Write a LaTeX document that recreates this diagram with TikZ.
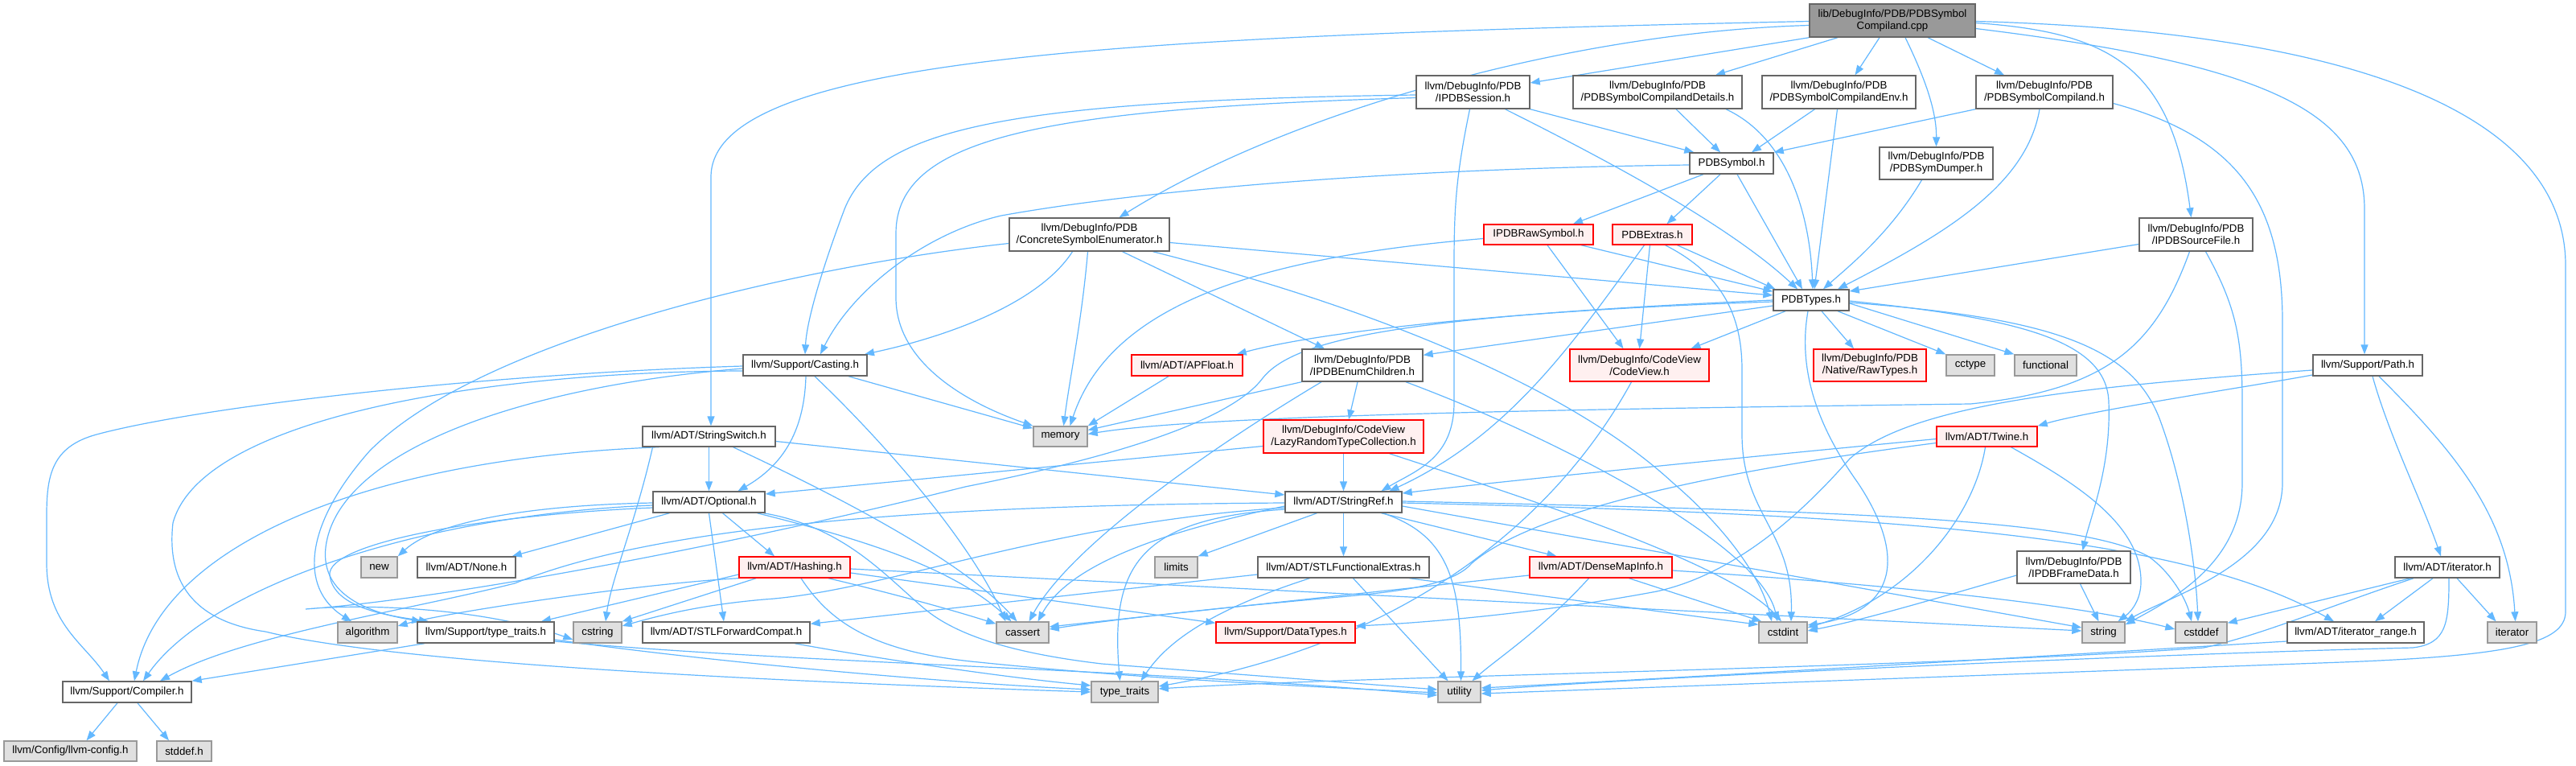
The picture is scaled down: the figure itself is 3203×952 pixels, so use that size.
\documentclass[tikz,border=0pt]{standalone}
\usepackage{fontspec}
\setmainfont{Liberation Sans}
\usetikzlibrary{arrows.meta}
\definecolor{edgec}{HTML}{63B8FF}
\definecolor{nbord}{HTML}{666666}
\definecolor{gbord}{HTML}{999999}
\definecolor{gfill}{HTML}{E0E0E0}
\definecolor{rfill}{HTML}{FFF0F0}
\definecolor{rootfill}{HTML}{999999}
\newcommand\labfont{\fontsize{13.3}{15}\selectfont}
\newcommand\mkbox[7]{\node[#2,minimum width={(#5)-(#3)},minimum height={(#6)-(#4)}] (#1) at ({((#3)+(#5))/2},{((#4)+(#6))/2}) {#7};}
\pgfdeclarelayer{edges}
\pgfsetlayers{edges,main}
\begin{document}
\begin{tikzpicture}[x=1pt,y=-1pt,
 box/.style={draw=nbord,fill=white,line width=1.4pt,inner sep=0pt,align=center,font=\labfont},
 rbox/.style={box,draw=red,fill=rfill},
 gbox/.style={box,draw=gbord,fill=gfill},
 rootbox/.style={box,fill=rootfill},
 e/.style={draw=edgec,line width=1.2pt,-{Triangle[length=12pt,width=9pt]}}]
\useasboundingbox (0,0) rectangle (3203,952);
% ---------------- nodes
\mkbox{root}{rootbox}{2250}{5}{2456}{46}{lib/DebugInfo/PDB/PDBSymbol\\Compiland.cpp}
\mkbox{ipdbsession}{box}{1761}{94}{1902}{135}{llvm/DebugInfo/PDB\\/IPDBSession.h}
\mkbox{compdetails}{box}{1956}{94}{2166}{135}{llvm/DebugInfo/PDB\\/PDBSymbolCompilandDetails.h}
\mkbox{compenv}{box}{2191}{94}{2382}{135}{llvm/DebugInfo/PDB\\/PDBSymbolCompilandEnv.h}
\mkbox{compilandh}{box}{2457}{94}{2627}{135}{llvm/DebugInfo/PDB\\/PDBSymbolCompiland.h}
\mkbox{pdbsymbol}{box}{2101}{190}{2205}{216}{PDBSymbol.h}
\mkbox{symdumper}{box}{2337}{183}{2478}{223}{llvm/DebugInfo/PDB\\/PDBSymDumper.h}
\mkbox{concrete}{box}{1255}{271}{1454}{312}{llvm/DebugInfo/PDB\\/ConcreteSymbolEnumerator.h}
\mkbox{sourcefile}{box}{2660}{271}{2801}{312}{llvm/DebugInfo/PDB\\/IPDBSourceFile.h}
\mkbox{rawsym}{rbox}{1845}{279}{1981}{304}{IPDBRawSymbol.h}
\mkbox{extras}{rbox}{2005}{279}{2104}{304}{PDBExtras.h}
\mkbox{pdbtypes}{box}{2205}{360}{2299}{386}{PDBTypes.h}
\mkbox{enumchildren}{box}{1619}{434}{1769}{474}{llvm/DebugInfo/PDB\\/IPDBEnumChildren.h}
\mkbox{codeview}{rbox}{1952}{434}{2125}{474}{llvm/DebugInfo/CodeView\\/CodeView.h}
\mkbox{rawtypes}{rbox}{2255}{434}{2395}{474}{llvm/DebugInfo/PDB\\/Native/RawTypes.h}
\mkbox{casting}{box}{924}{441}{1078}{467}{llvm/Support/Casting.h}
\mkbox{apfloat}{rbox}{1407}{441}{1545}{467}{llvm/ADT/APFloat.h}
\mkbox{cctype}{gbox}{2420}{441}{2480}{467}{cctype}
\mkbox{functional}{gbox}{2505}{441}{2582}{467}{functional}
\mkbox{pathh}{box}{2876}{441}{3012}{467}{llvm/Support/Path.h}
\mkbox{strswitch}{box}{799}{530}{964}{555}{llvm/ADT/StringSwitch.h}
\mkbox{memory}{gbox}{1285}{530}{1352}{555}{memory}
\mkbox{lazy}{rbox}{1571}{522}{1770}{563}{llvm/DebugInfo/CodeView\\/LazyRandomTypeCollection.h}
\mkbox{twine}{rbox}{2408}{530}{2533}{555}{llvm/ADT/Twine.h}
\mkbox{optional}{box}{812}{611}{951}{637}{llvm/ADT/Optional.h}
\mkbox{stringref}{box}{1598}{611}{1743}{637}{llvm/ADT/StringRef.h}
\mkbox{newh}{gbox}{449}{692}{494}{718}{new}
\mkbox{none}{box}{519}{692}{641}{718}{llvm/ADT/None.h}
\mkbox{hashing}{rbox}{919}{692}{1057}{718}{llvm/ADT/Hashing.h}
\mkbox{limits}{gbox}{1436}{692}{1489}{718}{limits}
\mkbox{stlfe}{box}{1564}{692}{1777}{718}{llvm/ADT/STLFunctionalExtras.h}
\mkbox{densemap}{rbox}{1902}{692}{2079}{718}{llvm/ADT/DenseMapInfo.h}
\mkbox{framedata}{box}{2508}{685}{2649}{725}{llvm/DebugInfo/PDB\\/IPDBFrameData.h}
\mkbox{iteratorh}{box}{2978}{692}{3108}{718}{llvm/ADT/iterator.h}
\mkbox{algorithm}{gbox}{420}{773}{494}{799}{algorithm}
\mkbox{typetraitsh}{box}{519}{773}{689}{799}{llvm/Support/type\_traits.h}
\mkbox{cstring}{gbox}{713}{773}{773}{799}{cstring}
\mkbox{stlfc}{box}{799}{773}{1007}{799}{llvm/ADT/STLForwardCompat.h}
\mkbox{cassert}{gbox}{1239}{773}{1304}{799}{cassert}
\mkbox{datatypes}{rbox}{1512}{773}{1685}{799}{llvm/Support/DataTypes.h}
\mkbox{cstdint}{gbox}{2187}{773}{2247}{799}{cstdint}
\mkbox{stringh}{gbox}{2589}{773}{2642}{799}{string}
\mkbox{cstddef}{gbox}{2705}{773}{2769}{799}{cstddef}
\mkbox{itrange}{box}{2844}{773}{3014}{799}{llvm/ADT/iterator\_range.h}
\mkbox{iterator}{gbox}{3093}{773}{3154}{799}{iterator}
\mkbox{compiler}{box}{78}{847}{238}{873}{llvm/Support/Compiler.h}
\mkbox{typetraits}{gbox}{1357}{847}{1440}{873}{type\_traits}
\mkbox{utility}{gbox}{1788}{847}{1841}{873}{utility}
\mkbox{llvmconfig}{gbox}{5}{921}{170}{946}{llvm/Config/llvm-config.h}
\mkbox{stddef}{gbox}{195}{921}{263}{946}{stddef.h}
% ---------------- edges
\begin{pgfonlayer}{edges}
\fill[white] (0,0) rectangle (3203,952);
% root
\draw[e] (root.south west) -- (ipdbsession);
\draw[e] ([xshift=-68pt]root.south) -- ([xshift=72pt]compdetails.north);
\draw[e] ([xshift=-16pt]root.south) -- ([xshift=20pt]compenv.north);
\draw[e] ([xshift=16pt]root.south) .. controls (2395,100) and (2408,140) .. (symdumper.north);
\draw[e] ([xshift=44pt]root.south) -- ([xshift=-50pt]compilandh.north);
\draw[e] ([yshift=-3pt]root.east) .. controls (2620,40) and (2700,80) .. ([xshift=-6pt]sourcefile.north);
\draw[e] ([yshift=-10pt]root.east) .. controls (2820,80) and (2940,140) .. (2940,260) -- ([xshift=-4pt]pathh.north);
\draw[e] ([yshift=-1pt]root.east) .. controls (2950,40) and (3190,150) .. (3190,330) -- (3190,760) .. controls (3190,800) and (3120,815) .. (2912,823) -- ([yshift=-2pt]utility.east);
\draw[e] ([yshift=-1pt]root.west) .. controls (1400,45) and (884,70) .. (884,220) -- ([xshift=2.5pt]strswitch.north);
\draw[e] ([yshift=-6pt]root.west) .. controls (1950,40) and (1600,140) .. ([xshift=37pt]concrete.north);
% IPDBSession
\draw[e] ([yshift=-3.5pt]ipdbsession.west) .. controls (1250,125) and (1090,160) .. (1050,260) .. controls (1020,340) and (1003,400) .. (casting.north);
\draw[e] ([yshift=-7pt]ipdbsession.west) .. controls (1300,135) and (1114,170) .. (1114,290) -- (1114,370) .. controls (1114,450) and (1200,500) .. (memory.north west);
\draw[e] ([xshift=-4pt]ipdbsession.south) .. controls (1810,220) and (1808,260) .. (1808,330) -- (1808,500) .. controls (1808,570) and (1760,585) .. ([xshift=47pt]stringref.north);
\draw[e] (ipdbsession.south east) -- ([xshift=6pt]pdbsymbol.north west);
\draw[e] ([xshift=40pt]ipdbsession.south) .. controls (2000,200) and (2150,280) .. ([xshift=-17pt]pdbtypes.north);
% CompilandDetails / Env / Compiland.h / SymDumper
\draw[e] ([xshift=23pt]compdetails.south) -- ([xshift=-14pt]pdbsymbol.north);
\draw[e] ([xshift=85pt]compdetails.south) .. controls (2220,170) and (2250,260) .. ([xshift=2pt]pdbtypes.north);
\draw[e] ([xshift=-30pt]compenv.south) -- ([xshift=25pt]pdbsymbol.north);
\draw[e] ([xshift=-2pt]compenv.south) -- ([xshift=4pt]pdbtypes.north);
\draw[e] (compilandh.south west) -- (pdbsymbol.north east);
\draw[e] ([xshift=-6pt]compilandh.south) .. controls (2520,230) and (2420,290) .. ([xshift=33pt]pdbtypes.north);
\draw[e] ([yshift=-14pt]compilandh.east) .. controls (2780,170) and (2838,250) .. (2838,400) -- (2838,600) .. controls (2838,700) and (2700,740) .. (stringh.north east);
\draw[e] ([xshift=-18pt]symdumper.south) .. controls (2350,290) and (2300,330) .. ([xshift=15pt]pdbtypes.north);
% PDBSymbol
\draw[e] ([xshift=-35pt]pdbsymbol.south) -- ([xshift=43pt]rawsym.north);
\draw[e] ([xshift=-14pt]pdbsymbol.south) -- ([xshift=18pt]extras.north);
\draw[e] ([xshift=7pt]pdbsymbol.south) -- ([xshift=-11pt]pdbtypes.north);
\draw[e] ([yshift=-2pt]pdbsymbol.west) .. controls (1700,210) and (1400,240) .. (1245,268) .. controls (1150,290) and (1060,360) .. ([xshift=19pt]casting.north);
% IPDBRawSymbol
\draw[e] ([xshift=53pt]rawsym.south) -- ([yshift=-3pt]pdbtypes.north west);
\draw[e] ([xshift=11pt]rawsym.south) -- ([xshift=-20pt]codeview.north);
\draw[e] ([yshift=-5pt]rawsym.west) .. controls (1560,320) and (1380,380) .. ([xshift=12pt]memory.north);
% PDBExtras
\draw[e] ([xshift=31pt]extras.south) -- ([xshift=3pt]pdbtypes.north west);
\draw[e] ([xshift=-3pt]extras.south) -- (codeview.north);
\draw[e] ([xshift=16pt]extras.south) .. controls (2140,340) and (2166,390) .. (2166,460) -- (2166,540) .. controls (2166,640) and (2230,660) .. ([xshift=10pt]cstdint.north);
\draw[e] ([xshift=-10pt]extras.south) .. controls (1960,420) and (1880,540) .. ([xshift=57pt]stringref.north);
% ConcreteSymbolEnumerator
\draw[e] ([xshift=-21pt]concrete.south) .. controls (1290,380) and (1170,420) .. ([xshift=74pt]casting.north);
\draw[e] ([xshift=-2pt]concrete.south) .. controls (1345,400) and (1330,470) .. ([xshift=4pt]memory.north);
\draw[e] ([xshift=41pt]concrete.south) -- ([xshift=-47pt]enumchildren.north);
\draw[e] ([xshift=79pt]concrete.south) .. controls (1700,380) and (1950,480) .. (2080,600) .. controls (2150,660) and (2190,720) .. ([xshift=-14pt]cstdint.north);
\draw[e] ([yshift=-10pt]concrete.east) -- ([yshift=6pt]pdbtypes.west);
\draw[e] ([yshift=-11pt]concrete.west) .. controls (1000,330) and (600,420) .. (460,560) .. controls (380,650) and (370,730) .. ([xshift=-20pt]algorithm.north);
% IPDBSourceFile
\draw[e] ([yshift=-12pt]sourcefile.west) -- ([yshift=11pt]pdbtypes.east);
\draw[e] ([xshift=12pt]sourcefile.south) .. controls (2780,380) and (2788,420) .. (2788,500) -- (2788,600) .. controls (2788,700) and (2700,745) .. ([yshift=-4pt]stringh.north east);
\draw[e] ([xshift=-8pt]sourcefile.south) .. controls (2680,430) and (2620,485) .. (2450,502) .. controls (2000,508) and (1500,515) .. ([yshift=3pt]memory.east);
% APFloat, IPDBEnumChildren, LazyRandomTypeCollection
\draw[e] ([xshift=-23pt]apfloat.south) -- (memory.north east);
\draw[e] ([xshift=-6pt]enumchildren.south) -- ([xshift=6.5pt]lazy.north);
\draw[e] (enumchildren.south west) -- ([yshift=8pt]memory.east);
\draw[e] ([xshift=-51pt]enumchildren.south) .. controls (1500,560) and (1330,680) .. ([xshift=8pt]cassert.north);
\draw[e] ([xshift=54pt]enumchildren.south) .. controls (1950,550) and (2190,680) .. ([xshift=-7pt]cstdint.north);
\draw[e] (lazy.south) -- (stringref.north);
\draw[e] ([yshift=-12pt]lazy.west) -- ([yshift=10pt]optional.east);
\draw[e] ([xshift=57pt]lazy.south) .. controls (1900,620) and (2150,700) .. ([xshift=-2pt]cstdint.north);
% Casting
\draw[e] ([xshift=1pt]casting.south) .. controls (1000,540) and (970,580) .. ([xshift=36pt]optional.north);
\draw[e] ([xshift=12pt]casting.south) .. controls (1110,560) and (1210,680) .. ([xshift=-21pt]cassert.north);
\draw[e] ([xshift=54pt]casting.south) -- ([yshift=-3pt]memory.north west);
\draw[e] ([yshift=-1pt]casting.west) .. controls (600,465) and (250,505) .. (120,540) .. controls (65,555) and (58,590) .. (58,640) -- (58,700) .. controls (58,775) and (105,800) .. ([xshift=-22pt]compiler.north);
\draw[e] ([yshift=-4pt]casting.west) .. controls (650,480) and (420,560) .. (405,680) .. controls (398,740) and (460,762) .. ([xshift=-80pt]typetraitsh.north);
\draw[e] ([yshift=-7pt]casting.west) .. controls (600,462) and (250,520) .. (215,650) .. controls (205,740) and (260,775) .. (330,785) .. controls (480,822) and (900,845) .. (typetraits.west);
% Optional
\draw[e] ([yshift=-1pt]optional.west) .. controls (650,628) and (540,650) .. (newh.north east);
\draw[e] ([xshift=-49pt]optional.south) -- ([xshift=-5pt]none.north east);
\draw[e] ([xshift=17pt]optional.south) -- ([xshift=-25pt]hashing.north);
\draw[e] (optional.south) -- ([xshift=-3pt]stlfc.north);
\draw[e] ([xshift=60pt]optional.south) .. controls (1050,665) and (1180,700) .. ([xshift=-14pt]cassert.north);
\draw[e] ([xshift=68pt]optional.south) .. controls (1050,655) and (1100,715) .. (1150,757) .. controls (1190,790) and (1260,812) .. (1370,825) -- ([yshift=3pt]utility.west);
\draw[e] ([yshift=-4pt]optional.west) .. controls (520,640) and (260,730) .. ([xshift=20pt]compiler.north);
\draw[e] ([yshift=-7pt]optional.west) .. controls (600,640) and (405,675) .. (410,715) .. controls (415,755) and (480,765) .. ([xshift=-71pt]typetraitsh.north);
% StringSwitch
\draw[e] (strswitch.south) -- (optional.north);
\draw[e] ([yshift=-6pt]strswitch.east) -- ([yshift=9pt]stringref.west);
\draw[e] ([xshift=30pt]strswitch.south) .. controls (1050,620) and (1200,700) .. ([xshift=-7pt]cassert.north);
\draw[e] ([xshift=-62pt]strswitch.south) .. controls (450,570) and (200,680) .. ([xshift=9pt]compiler.north);
\draw[e] ([xshift=-70pt]strswitch.south) .. controls (790,650) and (760,720) .. ([xshift=10pt]cstring.north);
% Hashing
\draw[e] ([yshift=-7pt]hashing.east) -- ([yshift=-2pt]datatypes.north west);
\draw[e] ([xshift=42pt]hashing.south) .. controls (1120,740) and (1190,760) .. ([yshift=-3pt]cassert.north west);
\draw[e] ([yshift=-2pt]hashing.east) -- ([yshift=2pt]stringh.west);
\draw[e] ([xshift=8pt]hashing.south) .. controls (1030,770) and (1080,810) .. (1217,823) .. controls (1400,842) and (1600,852) .. ([yshift=-1pt]utility.west);
\draw[e] ([yshift=-9pt]hashing.west) -- ([xshift=69pt]typetraitsh.north);
\draw[e] (hashing.south west) .. controls (800,725) and (560,760) .. ([yshift=8pt]algorithm.east);
\draw[e] ([xshift=-48pt]hashing.south) -- (cstring.north east);
% STLForwardCompat, type_traits.h, Compiler
\draw[e] ([xshift=85pt]stlfc.south) .. controls (1100,820) and (1250,842) .. ([yshift=8pt]typetraits.west);
\draw[e] ([xshift=-76pt]typetraitsh.south) -- (compiler.north east);
\draw[e] ([yshift=-9pt]typetraitsh.east) .. controls (900,825) and (1200,850) .. ([yshift=3pt]typetraits.west);
\draw[e] ([yshift=-11pt]typetraitsh.east) .. controls (1000,825) and (1400,830) .. ([yshift=-4pt]utility.west);
\draw[e] ([xshift=-12pt]compiler.south) -- ([xshift=20pt]llvmconfig.north);
\draw[e] ([xshift=13pt]compiler.south) -- ([xshift=-19pt]stddef.north);
% StringRef
\draw[e] (stringref.south) -- (stlfe.north);
\draw[e] ([xshift=-33pt]stringref.south) -- (limits.north east);
\draw[e] ([xshift=47pt]stringref.south) -- ([xshift=-55pt]densemap.north);
\draw[e] ([xshift=49pt]stringref.south) .. controls (1800,665) and (1817,720) .. ([xshift=2pt]utility.north);
\draw[e] ([yshift=-9pt]stringref.west) .. controls (1420,645) and (1380,700) .. ([xshift=-6pt]typetraits.north);
\draw[e] ([yshift=-5pt]stringref.west) .. controls (1450,660) and (1330,700) .. ([xshift=19pt]cassert.north);
\draw[e] ([yshift=1pt]stringref.east) .. controls (2300,635) and (2590,645) .. (2672,692) .. controls (2700,712) and (2718,745) .. ([xshift=-12pt]cstddef.north);
\draw[e] ([yshift=-1pt]stringref.east) .. controls (2400,640) and (2720,670) .. ([xshift=-27pt]itrange.north);
\draw[e] ([yshift=-5pt]stringref.east) -- ([yshift=6pt]stringh.west);
\draw[e] ([yshift=-1pt]stringref.west) .. controls (1100,628) and (800,660) .. (640,725) .. controls (500,760) and (300,790) .. ([xshift=41pt]compiler.north);
\draw[e] ([yshift=-7pt]stringref.west) .. controls (1300,650) and (1100,735) .. (950,745) .. controls (870,752) and (820,765) .. ([yshift=8pt]cstring.east);
% STLFunctionalExtras
\draw[e] ([yshift=-9pt]stlfe.west) -- ([yshift=-3pt]stlfc.north east);
\draw[e] ([xshift=82pt]stlfe.south) -- ([yshift=-4pt]cstdint.north west);
\draw[e] ([xshift=12pt]stlfe.south) -- ([xshift=-14pt]utility.north);
\draw[e] ([xshift=-42pt]stlfe.south) .. controls (1500,760) and (1450,800) .. ([xshift=20pt]typetraits.north);
% DenseMapInfo
\draw[e] ([yshift=-10pt]densemap.west) -- ([yshift=7pt]cassert.east);
\draw[e] ([xshift=35pt]densemap.south) -- ([xshift=4pt]cstdint.north west);
\draw[e] ([xshift=-15pt]densemap.south) .. controls (1920,780) and (1860,820) .. ([xshift=16pt]utility.north);
\draw[e] ([yshift=-4pt]densemap.east) .. controls (2400,730) and (2600,755) .. ([yshift=4pt]cstddef.west);
% Twine
\draw[e] ([yshift=-3pt]twine.west) .. controls (2100,575) and (1850,600) .. ([yshift=11pt]stringref.east);
\draw[e] ([yshift=-8pt]twine.west) .. controls (2100,590) and (1900,640) .. (1830,700) .. controls (1800,735) and (1700,738) .. (1600,748) .. controls (1450,762) and (1350,775) .. ([yshift=4pt]cassert.east);
\draw[e] ([xshift=-2pt]twine.south) .. controls (2455,640) and (2380,740) .. ([yshift=6pt]cstdint.east);
\draw[e] ([xshift=30pt]twine.south) .. controls (2580,600) and (2660,650) .. (2662,720) .. controls (2663,745) and (2650,760) .. ([xshift=18pt]stringh.north);
% IPDBFrameData
\draw[e] ([yshift=-10pt]framedata.west) .. controls (2420,740) and (2320,770) .. ([yshift=2pt]cstdint.east);
\draw[e] ([xshift=8pt]framedata.south) -- ([xshift=-6pt]stringh.north);
% iterator.h, iterator_range.h
\draw[e] ([xshift=-18pt]iteratorh.south) -- ([xshift=24pt]itrange.north);
\draw[e] ([xshift=12pt]iteratorh.south) -- ([xshift=-20pt]iterator.north);
\draw[e] ([xshift=-46pt]iteratorh.south) -- ([yshift=-2pt]cstddef.north east);
\draw[e] ([xshift=-42pt]iteratorh.south) .. controls (2900,752) and (2810,790) .. (2740,805) .. controls (2400,830) and (1700,840) .. ([yshift=4pt]typetraits.east);
\draw[e] ([xshift=2pt]iteratorh.south) .. controls (3045,775) and (3042,800) .. (3000,805) .. controls (2600,815) and (2000,845) .. ([yshift=2pt]utility.east);
\draw[e] ([yshift=-11pt]itrange.west) .. controls (2600,812) and (2100,842) .. ([yshift=5pt]utility.east);
% Path
\draw[e] ([yshift=-12pt]pathh.west) .. controls (2800,480) and (2600,510) .. (twine.north east);
\draw[e] ([xshift=6pt]pathh.south) .. controls (2970,540) and (3010,620) .. ([xshift=-8pt]iteratorh.north);
\draw[e] ([xshift=14pt]pathh.south) .. controls (3050,560) and (3120,640) .. ([xshift=4pt]iterator.north);
\draw[e] ([yshift=-6pt]pathh.west) .. controls (2600,480) and (2380,500) .. (2300,570) .. controls (2230,650) and (2150,715) .. (2060,735) .. controls (1900,765) and (1750,775) .. ([yshift=8pt]datatypes.east);
% CodeView
\draw[e] ([xshift=-10pt]codeview.south) .. controls (1960,600) and (1800,790) .. ([yshift=7pt]typetraits.east);
% PDBTypes
\draw[e] ([yshift=-2pt]pdbtypes.west) .. controls (1900,385) and (1650,410) .. ([xshift=-8pt]apfloat.north east);
\draw[e] ([yshift=-7pt]pdbtypes.west) -- ([yshift=-8pt]enumchildren.north east);
\draw[e] ([xshift=-32pt]pdbtypes.south) -- ([xshift=64pt]codeview.north);
\draw[e] ([xshift=13pt]pdbtypes.south) -- ([xshift=-20pt]rawtypes.north);
\draw[e] ([xshift=33pt]pdbtypes.south) -- (cctype.north west);
\draw[e] ([yshift=-4pt]pdbtypes.east) -- (functional.north west);
\draw[e] ([yshift=-1pt]pdbtypes.east) .. controls (2500,395) and (2620,420) .. (2622,500) .. controls (2625,580) and (2600,640) .. ([xshift=11pt]framedata.north);
\draw[e] ([yshift=-3pt]pdbtypes.east) .. controls (2550,395) and (2650,430) .. (2685,520) .. controls (2715,600) and (2730,700) .. ([xshift=-4pt]cstddef.north);
\draw[e] ([xshift=-4pt]pdbtypes.south) .. controls (2235,460) and (2260,530) .. (2310,600) .. controls (2370,690) and (2360,760) .. ([yshift=9pt]cstdint.east);
\draw[e] (pdbtypes.west) .. controls (1750,393) and (1610,420) .. (1570,470) .. controls (1525,530) and (1350,575) .. (1200,605) .. controls (900,680) and (550,745) .. (380,757) .. controls (450,750) and (600,755) .. ([yshift=-9pt]cstring.west);
\end{pgfonlayer}
\end{tikzpicture}
\end{document}
